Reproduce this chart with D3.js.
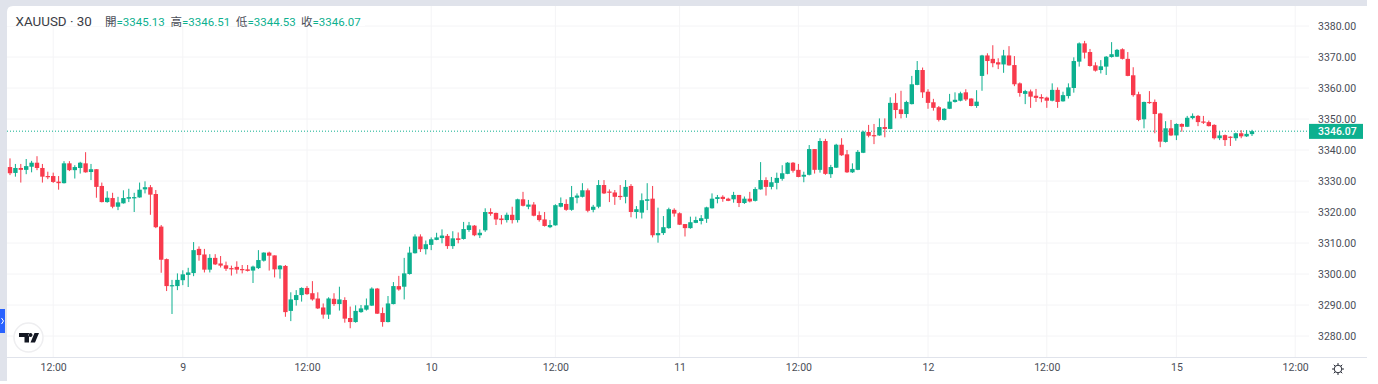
<!DOCTYPE html>
<html>
<head>
<meta charset="utf-8">
<script src="https://cdn.jsdelivr.net/npm/d3@7"></script>
<style>
  html, body { margin: 0; padding: 0; background: #fff; overflow: hidden; }
  svg { display: block; font-family: Roboto, "Noto Sans CJK TC", sans-serif; }
  .domain { display: none; }
  .tick line { display: none; }
  .tick text { fill: #4a4d57; font-size: 10.5px; font-family: Roboto, sans-serif; }
</style>
</head>
<body>
<svg id="chart" width="1378" height="384"></svg>
<script>
// The data, one entry per 30 minute bar
var opens = [
  3334.5,3332.6,3334.2,3333.6,3334.6,3335.9,3334.2,3331.6,3331.6,3329.8,
  3329.3,3335.7,3333.5,3334.2,3335.7,3332.9,3333.8,3328.4,3323.2,3324.5,
  3321.7,3322.8,3324.3,3324.4,3324.7,3327.3,3328.0,3325.8,3315.3,3304.8,
  3296.1,3296.1,3298.0,3299.7,3300.3,3308.1,3306.3,3301.4,3305.2,3303.4,
  3302.8,3301.9,3302.3,3301.6,3301.5,3301.1,3301.9,3304.3,3306.9,3306.0,
  3301.5,3302.6,3288.1,3291.6,3293.2,3295.5,3293.8,3292.1,3289.2,3286.9,
  3292.0,3290.3,3291.6,3285.8,3284.5,3287.7,3288.5,3289.8,3295.3,3287.4,
  3284.5,3290.3,3296.1,3295.9,3300.0,3306.7,3312.1,3308.0,3309.4,3311.0,
  3311.6,3312.3,3309.0,3311.5,3311.3,3314.2,3315.6,3312.5,3314.1,3320.0,
  3319.7,3317.9,3317.4,3319.1,3317.4,3324.1,3321.7,3322.4,3319.0,3317.6,
  3315.1,3315.7,3321.7,3322.6,3320.7,3324.6,3324.9,3327.0,3320.7,3321.7,
  3328.7,3326.6,3326.3,3325.2,3324.9,3328.4,3320.0,3319.8,3323.6,3324.3,
  3312.5,3313.2,3314.8,3320.7,3319.6,3316.1,3314.8,3316.5,3317.1,3317.8,
  3321.2,3324.2,3324.9,3324.3,3324.1,3325.5,3322.9,3324.3,3323.6,3327.3,
  3330.3,3328.1,3329.4,3330.7,3332.3,3335.9,3333.6,3331.4,3332.0,3340.3,
  3333.6,3342.9,3332.2,3334.3,3341.7,3338.6,3332.8,3333.6,3339.1,3345.8,
  3344.8,3344.7,3347.4,3346.8,3355.2,3353.1,3351.6,3354.8,3361.0,3365.8,
  3358.8,3355.4,3353.8,3349.7,3353.3,3355.5,3355.9,3358.6,3356.6,3354.2,
  3363.9,3370.5,3369.4,3368.3,3367.6,3370.5,3367.4,3361.5,3358.1,3358.9,
  3357.5,3357.1,3356.9,3355.9,3359.4,3355.7,3357.4,3360.0,3368.5,3374.4,
  3371.6,3367.3,3365.8,3366.9,3370.0,3370.1,3372.5,3369.4,3364.1,3358.0,
  3349.9,3355.5,3355.5,3351.8,3342.6,3347.0,3344.7,3348.4,3347.5,3350.3,
  3351.0,3349.2,3349.0,3348.1,3343.8,3344.8,3344.3,3343.8,3345.4,3344.4,
  3345.13];
var highs = [
  3337.3,3335.5,3335.5,3337.1,3336.5,3338.0,3335.5,3333.0,3332.7,3331.6,
  3336.4,3336.4,3335.1,3336.2,3339.3,3335.5,3333.8,3329.5,3326.7,3326.2,
  3324.9,3327.0,3327.5,3326.2,3329.5,3329.9,3328.7,3327.1,3315.8,3305.0,
  3298.1,3300.2,3301.2,3302.0,3310.3,3308.9,3308.1,3306.4,3306.4,3305.8,
  3304.0,3302.7,3304.1,3302.9,3302.9,3302.7,3307.7,3307.0,3307.2,3306.0,
  3302.9,3302.9,3294.1,3294.8,3295.7,3296.1,3297.7,3294.1,3290.5,3292.5,
  3293.8,3295.9,3292.5,3289.5,3289.9,3290.0,3292.1,3295.7,3295.5,3289.2,
  3292.9,3297.4,3299.4,3305.2,3308.8,3312.8,3312.8,3310.8,3311.8,3313.3,
  3314.4,3312.9,3313.8,3313.4,3316.8,3316.8,3315.8,3314.4,3321.2,3321.2,
  3319.8,3319.0,3319.8,3321.7,3324.3,3326.5,3323.9,3323.2,3320.2,3320.0,
  3317.4,3322.5,3324.7,3324.1,3328.4,3326.0,3329.3,3327.6,3322.3,3330.3,
  3330.3,3327.3,3327.1,3328.7,3330.3,3329.0,3321.9,3326.0,3329.3,3328.4,
  3321.4,3318.7,3321.4,3321.2,3319.9,3316.1,3318.5,3318.5,3319.0,3321.7,
  3326.0,3325.5,3325.4,3324.6,3326.5,3325.5,3325.0,3326.5,3328.0,3336.1,
  3331.2,3331.3,3332.7,3335.1,3336.1,3336.1,3335.5,3333.0,3341.6,3340.3,
  3343.8,3343.6,3335.2,3342.0,3343.8,3340.0,3335.7,3340.0,3346.2,3348.1,
  3348.4,3350.2,3350.2,3357.0,3358.3,3359.1,3355.9,3363.9,3368.7,3366.6,
  3359.6,3356.5,3354.2,3353.5,3358.1,3358.6,3358.8,3359.6,3356.7,3359.3,
  3370.7,3371.2,3373.8,3369.6,3372.3,3373.5,3370.3,3361.8,3359.4,3359.5,
  3359.7,3358.0,3357.2,3361.5,3360.2,3358.8,3361.5,3369.9,3374.7,3375.2,
  3372.6,3368.3,3369.0,3370.3,3374.8,3372.6,3372.8,3371.6,3366.7,3358.8,
  3355.6,3359.0,3356.3,3352.0,3349.3,3349.7,3348.6,3348.6,3351.0,3351.8,
  3351.3,3351.0,3349.5,3348.3,3346.1,3345.0,3344.4,3345.6,3346.4,3346.4,
  3346.51];
var lows = [
  3331.9,3331.4,3329.5,3332.2,3332.8,3333.5,3329.5,3330.6,3329.4,3327.2,
  3329.2,3333.2,3330.8,3332.4,3332.7,3330.3,3324.6,3323.1,3323.0,3321.2,
  3320.6,3322.7,3323.2,3320.0,3324.6,3326.0,3319.1,3314.8,3300.4,3294.5,
  3287.1,3294.8,3296.4,3295.8,3299.3,3304.3,3300.5,3300.5,3302.9,3302.1,
  3301.0,3299.5,3300.1,3300.2,3300.8,3297.1,3301.6,3304.0,3301.1,3298.9,
  3298.5,3286.2,3284.8,3289.8,3291.1,3293.3,3291.4,3288.7,3285.6,3285.5,
  3289.7,3288.2,3284.3,3282.5,3284.3,3287.5,3288.2,3289.7,3287.1,3283.0,
  3284.4,3290.2,3294.6,3291.8,3299.8,3306.6,3307.1,3306.3,3307.7,3310.9,
  3309.9,3308.1,3308.1,3309.9,3311.1,3313.6,3312.2,3311.6,3313.6,3318.8,
  3315.8,3316.0,3316.6,3316.3,3316.6,3321.8,3320.9,3318.6,3316.9,3315.3,
  3314.8,3315.6,3321.5,3320.4,3320.4,3322.8,3324.7,3319.9,3319.9,3321.2,
  3325.8,3323.2,3322.3,3323.9,3322.8,3318.3,3317.9,3317.9,3320.6,3311.8,
  3310.1,3312.6,3314.6,3318.5,3315.8,3312.1,3314.6,3316.4,3316.0,3316.5,
  3321.1,3322.8,3323.3,3323.5,3323.0,3321.6,3322.6,3323.1,3323.4,3327.2,
  3325.3,3327.3,3327.3,3330.1,3332.2,3332.7,3331.2,3329.6,3331.8,3332.4,
  3332.7,3332.0,3331.0,3334.2,3338.1,3332.6,3332.6,3333.5,3339.0,3344.1,
  3341.9,3344.6,3344.1,3346.7,3350.2,3350.2,3350.4,3354.7,3360.9,3356.8,
  3353.3,3352.7,3349.2,3349.5,3353.2,3355.3,3355.7,3355.8,3354.1,3353.6,
  3359.1,3364.4,3366.7,3366.1,3364.9,3367.2,3360.6,3357.2,3354.8,3353.6,
  3355.5,3355.4,3353.6,3355.7,3353.6,3355.6,3356.6,3358.5,3366.9,3369.5,
  3366.9,3365.3,3364.7,3364.2,3369.8,3370.0,3369.2,3363.8,3357.2,3349.3,
  3347.0,3354.9,3345.4,3340.9,3342.4,3344.5,3343.2,3345.9,3347.4,3349.9,
  3347.7,3348.4,3347.6,3343.4,3343.2,3341.3,3341.3,3343.0,3343.8,3344.2,
  3344.53];
var closes = [
  3332.5,3334.2,3333.6,3334.8,3335.9,3334.2,3331.4,3331.3,3329.7,3329.3,
  3335.7,3333.5,3334.5,3335.9,3332.8,3333.8,3328.1,3323.2,3324.6,3321.7,
  3323.1,3324.5,3324.8,3324.8,3327.2,3328.0,3325.6,3315.1,3304.6,3296.1,
  3296.4,3298.1,3299.9,3300.5,3307.7,3306.1,3301.4,3305.2,3303.1,3302.7,
  3301.7,3301.5,3301.4,3301.3,3301.0,3302.4,3304.5,3306.9,3305.9,3301.5,
  3302.7,3287.7,3291.8,3293.2,3295.5,3293.5,3291.8,3288.9,3286.9,3292.1,
  3290.3,3291.8,3285.6,3284.5,3288.1,3288.9,3289.9,3295.3,3287.2,3284.5,
  3290.5,3296.1,3295.0,3300.2,3306.9,3312.1,3308.0,3309.6,3311.2,3311.8,
  3312.4,3309.0,3311.5,3311.0,3314.5,3315.7,3312.5,3313.3,3320.0,3319.4,
  3317.6,3317.4,3319.1,3317.4,3324.1,3322.0,3322.4,3318.8,3317.4,3315.5,
  3315.8,3322.2,3322.9,3320.7,3324.8,3325.3,3327.0,3320.4,3321.7,3328.7,
  3326.0,3326.2,3324.9,3324.8,3328.1,3320.0,3320.9,3323.8,3324.1,3312.5,
  3313.2,3315.1,3320.9,3319.5,3315.9,3314.8,3316.7,3317.4,3318.0,3321.5,
  3324.3,3324.8,3324.2,3323.6,3325.5,3322.9,3324.3,3323.4,3327.4,3330.3,
  3328.1,3329.6,3331.0,3332.5,3335.9,3333.3,3331.3,3332.0,3340.3,3333.6,
  3342.9,3332.3,3334.5,3341.7,3338.3,3332.8,3333.9,3339.4,3345.9,3344.6,
  3344.6,3347.4,3346.8,3355.2,3352.9,3351.6,3355.5,3361.2,3365.8,3358.6,
  3355.2,3353.6,3349.7,3353.3,3355.6,3356.2,3358.3,3356.3,3354.2,3355.6,
  3370.5,3368.7,3368.0,3367.6,3370.5,3367.3,3361.2,3358.4,3359.0,3357.2,
  3356.8,3356.6,3355.9,3359.4,3355.5,3357.7,3360.2,3368.7,3374.4,3371.4,
  3367.1,3365.6,3367.0,3370.1,3370.9,3372.3,3369.4,3363.9,3357.7,3349.7,
  3355.5,3355.2,3351.6,3342.7,3347.0,3344.7,3348.4,3347.5,3350.4,3351.0,
  3349.0,3348.8,3347.7,3343.8,3344.7,3343.2,3344.0,3345.4,3344.4,3345.2,
  3346.07];

// Axis labels
var priceTicks = [3280,3290,3300,3310,3320,3330,3340,3350,3360,3370,3380];
var timeTickBars = [8,32,55,78,101,124,146,170,192,216,238];
var timeTickLabels = ["12:00","9","12:00","10","12:00","11","12:00","12","12:00","15","12:00"];

// Legend
var symbolLabel = "XAUUSD · 30";
var ohlcNames = ["開","高","低","收"];
var ohlcValues = ["3345.13","3346.51","3344.53","3346.07"];
var lastPrice = 3346.07;

var upColor = "#0db08f", downColor = "#f83a4c", gridColor = "#f4f4f6", edgeColor = "#e0e3eb";
var paneLeft = 7, paneRight = 1309, paneBottom = 357, pageRight = 1367;

var svg = d3.select("#chart");

// X is the bar number, Y the price
var x = d3.scaleLinear().domain([0, 230]).range([10, 1252]);
var y = d3.scaleLinear().domain([3280, 3380]).range([336, 26]);

var bars = closes.map(function(c, i) {
  return {i: i, open: opens[i], high: highs[i], low: lows[i], close: c};
});

// Grid
svg.append("g").selectAll("line")
    .data(timeTickBars)
    .enter().append("line")
      .attr("x1", function(d) { return x(d); })
      .attr("x2", function(d) { return x(d); })
      .attr("y1", 6)
      .attr("y2", paneBottom)
      .attr("stroke", gridColor);

svg.append("g").selectAll("line")
    .data(priceTicks)
    .enter().append("line")
      .attr("x1", paneLeft)
      .attr("x2", paneRight)
      .attr("y1", function(d) { return y(d); })
      .attr("y2", function(d) { return y(d); })
      .attr("stroke", gridColor);

// Legend backing hides the grid behind the header
svg.append("rect").attr("x", paneLeft).attr("y", 6).attr("width", 358).attr("height", 20).attr("fill", "#fff");

// Last price line
svg.append("line")
    .attr("x1", paneLeft)
    .attr("x2", paneRight)
    .attr("y1", y(lastPrice))
    .attr("y2", y(lastPrice))
    .attr("stroke", upColor)
    .attr("stroke-dasharray", "1,2");

// Candles
var candle = svg.append("g").selectAll("g")
    .data(bars)
    .enter().append("g")
      .attr("fill", function(d) { return d.close >= d.open ? upColor : downColor; });

candle.append("rect")
    .attr("x", function(d) { return x(d.i) - 0.5; })
    .attr("width", 1)
    .attr("y", function(d) { return y(d.high); })
    .attr("height", function(d) { return y(d.low) - y(d.high); });

candle.append("rect")
    .attr("x", function(d) { return x(d.i) - 2.2; })
    .attr("width", 4.4)
    .attr("y", function(d) { return y(Math.max(d.open, d.close)); })
    .attr("height", function(d) { return Math.max(1.2, Math.abs(y(d.open) - y(d.close))); });

// Axes
svg.append("g")
    .attr("transform", "translate(" + paneRight + ",0)")
    .call(d3.axisRight(y).tickValues(priceTicks).tickSize(0).tickPadding(9).tickFormat(d3.format(".2f")));

svg.append("g")
    .attr("transform", "translate(0,361)")
    .call(d3.axisBottom(x).tickValues(timeTickBars).tickSize(0).tickPadding(3)
      .tickFormat(function(d, i) { return timeTickLabels[i]; }));

// Page frame
svg.append("path")
    .attr("d", "M0,0H" + pageRight + "V6H13Q7,6 7,12V381H0Z")
    .attr("fill", edgeColor);
svg.append("line")
    .attr("x1", paneLeft).attr("x2", pageRight)
    .attr("y1", paneBottom + 0.5).attr("y2", paneBottom + 0.5)
    .attr("stroke", edgeColor);

// Collapse tab on the left
svg.append("rect").attr("x", 0).attr("y", 309).attr("width", 5).attr("height", 24).attr("fill", "#2962ff");
svg.append("path").attr("d", "M1.5,318L3.5,321L1.5,324").attr("fill", "none").attr("stroke", "#fff");

// Header
var header = svg.append("g").attr("font-size", 11.5);
header.append("text").attr("x", 15.5).attr("y", 26).attr("fill", "#3a3d45").attr("font-size", 13.4).text(symbolLabel);
var legendX = [105, 170.5, 236, 301];
ohlcNames.forEach(function(n, i) {
  var t = header.append("text").attr("x", legendX[i]).attr("y", 25.5).attr("fill", "#4a4d57").text(n);
  t.append("tspan").attr("fill", upColor).text("=" + ohlcValues[i]);
});

// Last price tag
svg.append("rect")
    .attr("x", paneRight).attr("y", y(lastPrice) - 7.3)
    .attr("width", 54).attr("height", 15)
    .attr("fill", upColor);
svg.append("text")
    .attr("x", paneRight + 9).attr("y", y(lastPrice) + 4)
    .attr("fill", "#fff").attr("font-size", 10.5).attr("font-weight", 500)
    .text(d3.format(".2f")(lastPrice));

// TradingView badge
svg.append("circle").attr("cx", 28.5).attr("cy", 337.5).attr("r", 14.5)
    .attr("fill", "#fff").attr("stroke", "#eeeef0").attr("stroke-width", 1.5);
svg.append("path")
    .attr("d", "M19,333H29V342.5H24.5V337H19Z M30.5,337A2,2 0 1 0 30.49,337Z M34.5,333H39L35,342.5H30.5Z")
    .attr("fill", "#131722");

// Settings icon
var sun = svg.append("g").attr("transform", "translate(1338,369)").attr("stroke", "#2a2e39").attr("fill", "none");
sun.append("circle").attr("r", 3.8);
d3.range(8).forEach(function(k) {
  var a = k * Math.PI / 4;
  sun.append("line")
      .attr("x1", 3.8 * Math.cos(a)).attr("y1", 3.8 * Math.sin(a))
      .attr("x2", 6 * Math.cos(a)).attr("y2", 6 * Math.sin(a));
});
</script>
</body>
</html>
